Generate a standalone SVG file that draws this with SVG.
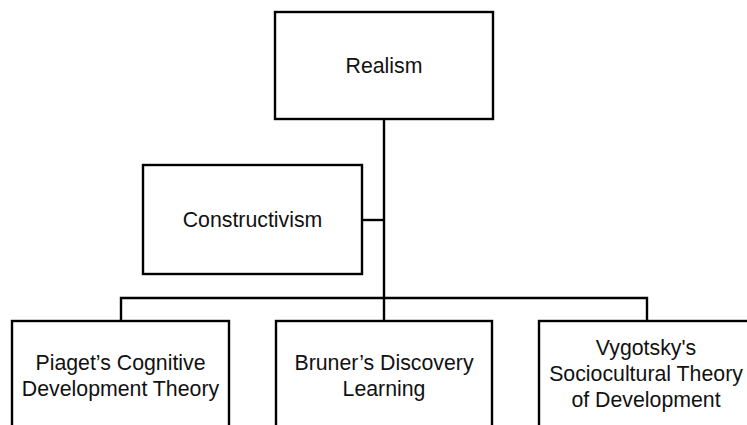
<svg xmlns="http://www.w3.org/2000/svg" width="747" height="425" viewBox="0 0 747 425">
<style>
.box{fill:#fff;stroke:#000;stroke-width:2.4}
.ln{fill:none;stroke:#000;stroke-width:2.4}
text{font-family:"Liberation Sans",Arial,sans-serif;font-size:21.3px;fill:#111;text-anchor:middle}
</style>
<rect width="747" height="425" fill="#fff"/>
<g id="connectors">
<path class="ln" d="M384,119 V321"/>
<path class="ln" d="M362,220 H384"/>
<path class="ln" d="M121,321 V298 H647 V321"/>
</g>
<g id="realism">
<rect class="box" x="275" y="12" width="218" height="107"/>
<text x="384" y="73">Realism</text>
</g>
<g id="constructivism">
<rect class="box" x="143" y="165" width="219" height="109"/>
<text x="252.5" y="226.5">Constructivism</text>
</g>
<g id="piaget">
<rect class="box" x="12" y="321" width="217" height="130"/>
<text x="120.5" y="369.5">Piaget’s Cognitive</text>
<text x="120.5" y="395.5">Development Theory</text>
</g>
<g id="bruner">
<rect class="box" x="276" y="321" width="216" height="130"/>
<text x="384" y="369.5">Bruner’s Discovery</text>
<text x="384" y="395.5">Learning</text>
</g>
<g id="vygotsky">
<rect class="box" x="539" y="321" width="216" height="130"/>
<text x="646" y="354.5">Vygotsky's</text>
<text x="646" y="380.5">Sociocultural Theory</text>
<text x="646" y="406.5">of Development</text>
</g>
</svg>
